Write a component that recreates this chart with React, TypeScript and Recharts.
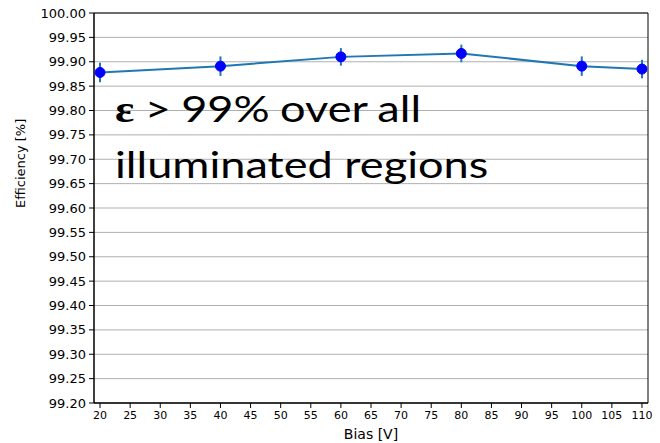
import React from 'react';
import {
  LineChart, Line, XAxis, YAxis, CartesianGrid, ErrorBar, ReferenceArea,
} from 'recharts';

// bias voltage [V] and measured efficiency [%]
const bias = [20, 40, 60, 80, 100, 110];
const efficiency = [99.878, 99.891, 99.910, 99.917, 99.891, 99.885];
const errors = [0.020, 0.020, 0.018, 0.018, 0.020, 0.019];

const xTicks = [20, 25, 30, 35, 40, 45, 50, 55, 60, 65, 70, 75, 80, 85, 90, 95, 100, 105, 110];
const yTicks = [
  99.2, 99.25, 99.3, 99.35, 99.4, 99.45, 99.5, 99.55, 99.6,
  99.65, 99.7, 99.75, 99.8, 99.85, 99.9, 99.95, 100,
];

const data = bias.map((b, i) => ({ bias: b, eff: efficiency[i], err: errors[i] }));

const FONT = 'DejaVu Sans';

export default function App() {
  return (
    <div style={{ position: 'absolute', left: 0, top: 0, width: 660, height: 443, background: '#fff' }}>
      <LineChart
        width={660}
        height={443}
        data={data}
        margin={{ top: 13, right: 12, bottom: 0, left: 0 }}
        style={{ fontFamily: FONT }}
      >
        <CartesianGrid vertical={false} stroke="#b0b0b0" strokeWidth={1} />
        <XAxis
          dataKey="bias"
          type="number"
          domain={[19, 111]}
          ticks={xTicks}
          interval={0}
          height={40}
          stroke="#000"
          tickSize={5}
          tickMargin={3}
          tick={{ fill: '#000', fontSize: 11, fontFamily: FONT }}
          label={{ value: 'Bias [V]', position: 'insideBottom', offset: 4, fill: '#000', fontSize: 14, fontFamily: FONT }}
        />
        <YAxis
          type="number"
          domain={[99.2, 100]}
          ticks={yTicks}
          interval={0}
          width={94}
          stroke="#000"
          tickSize={5}
          tickMargin={3}
          tickFormatter={(v: number) => v.toFixed(2)}
          tick={{ fill: '#000', fontSize: 13, fontFamily: FONT }}
          label={{ value: 'Efficiency [%]', angle: -90, position: 'insideLeft', offset: 20, fill: '#000', fontSize: 13, fontFamily: FONT }}
        />
        <ReferenceArea x1={19} x2={111} y1={99.2} y2={100} fill="none" stroke="#000" strokeWidth={1} fillOpacity={0} />
        <Line
          dataKey="eff"
          stroke="#1f77b4"
          strokeWidth={2}
          dot={{ r: 5, fill: '#0000ff', stroke: '#0000ff', strokeWidth: 1 }}
          activeDot={false}
          isAnimationActive={false}
        >
          <ErrorBar dataKey="err" width={0} stroke="#1f77b4" strokeWidth={2} direction="y" isAnimationActive={false} />
        </Line>
      </LineChart>
      <div
        style={{
          position: 'absolute', left: 115, top: 81, fontFamily: 'Lato', fontSize: 37,
          lineHeight: '54px', color: '#000', transform: 'scaleX(1.22)', transformOrigin: 'left top',
          whiteSpace: 'nowrap',
        }}
      >
        <div style={{ wordSpacing: -1 }}>
          <span style={{ fontFamily: 'Liberation Serif', fontWeight: 'bold' }}>ε</span> &gt; 99% over all
        </div>
        <div>illuminated regions</div>
      </div>
    </div>
  );
}
